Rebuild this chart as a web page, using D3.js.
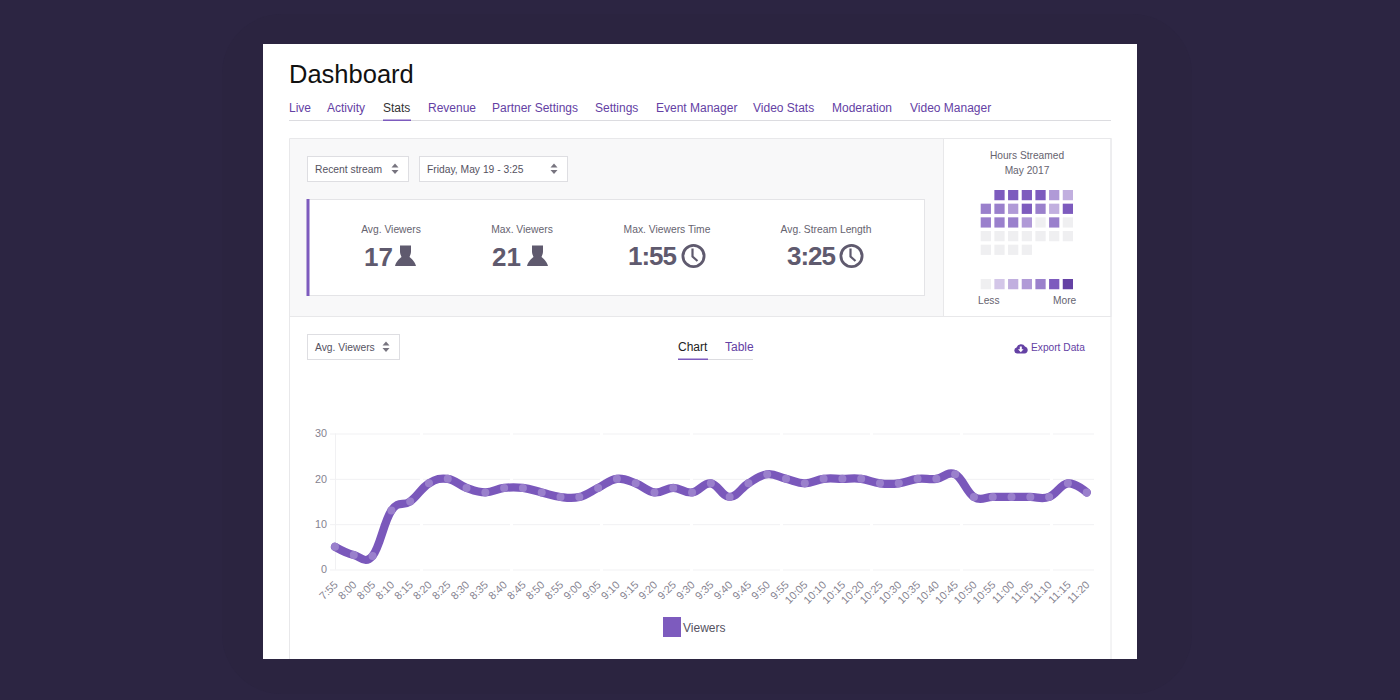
<!DOCTYPE html>
<meta charset="utf-8">
<style>
body { margin: 0; background: #2c2542; }
svg { display: block; }
text { font-family: "Liberation Sans", Arial, sans-serif; }
.axis text { fill: #85828f; font-size: 10.8px; }
.axis path { display: none; }
.axis line { stroke: #f1f1f3; }
.grid-x { stroke-dasharray: 87 3; stroke-dashoffset: 2; }
.line { fill: none; stroke: #7a58bb; stroke-width: 8.2px; stroke-linecap: round; }
.dot { fill: #9a80cc; }
</style>
<svg width="1400" height="700"></svg>
<script src="https://d3js.org/d3.v7.min.js"></script>
<script>
  // chart data
  var times = ["7:55","8:00","8:05","8:10","8:15","8:20","8:25","8:30","8:35","8:40","8:45","8:50","8:55","9:00",
    "9:05","9:10","9:15","9:20","9:25","9:30","9:35","9:40","9:45","9:50","9:55","10:05","10:10","10:15","10:20",
    "10:25","10:30","10:35","10:40","10:45","10:50","10:55","11:00","11:05","11:10","11:15","11:20"];
  var viewers = [5,3.2,3,13,15,19,20,18,17,18,18,17,16,16,18,20,19,17,18,17,19,16,19,21,20,19,20,20,20,19,19,20,20,21,16,16,16,16,16,19,17];
  var yTicks = [0,10,20,30];

  var heatRows = [
    [null,5,5,5,5,3,2],
    [4,4,3,5,4,2,5],
    [4,4,4,3,0,4,0],
    [0,0,0,0,0,0,0],
    [0,0,0,0,null,null,null]
  ];
  var heatLegend = [0,1,2,3,4,5,6];
  var heatColors = ["#efeff1","#d3c6e8","#c1afdf","#b09ad7","#9a80cc","#7d5bbe","#6441a4"];

  var navLabels = ["Live","Activity","Stats","Revenue","Partner Settings","Settings","Event Manager","Video Stats","Moderation","Video Manager"];
  var navX = [289,327,383,428,492,595,656,753,832,910];

  var statLabels = ["Avg. Viewers","Max. Viewers","Max. Viewers Time","Avg. Stream Length"];
  var statValues = ["17","21","1:55","3:25"];
  var statCenters = [391,522,667,826];

  var purple = "#6441a4", grey = "#5f5a6e", border = "#e8e8ea";

  var svg = d3.select("svg");

  function rect(x, y, w, h, fill, stroke) {
    return svg.append("rect").attr("x", x).attr("y", y).attr("width", w).attr("height", h)
      .attr("fill", fill).attr("stroke", stroke || "none");
  }
  function label(x, y, str, size, fill, anchor, weight) {
    return svg.append("text").attr("x", x).attr("y", y).text(str)
      .attr("font-size", size).attr("fill", fill)
      .attr("text-anchor", anchor || "start").attr("font-weight", weight || "normal");
  }
  function selectBox(x, y, w, h, str) {
    rect(x + .5, y + .5, w, h, "#fff", "#dedee2");
    label(x + 8, y + 16.5, str, 10.3, "#55525f");
    var ax = x + w - 13;
    svg.append("path").attr("fill", "#77747f")
      .attr("d", "M" + (ax - 3.5) + "," + (y + 11.5) + "l3.5,-4l3.5,4zM" + (ax - 3.5) + "," + (y + 14) + "l3.5,4l3.5,-4z");
  }

  // faint halo behind the card
  rect(222, 14, 970, 680, "#2b2440").attr("rx", 60);

  // page
  rect(263, 44, 874, 615, "#fff");
  label(289, 83, "Dashboard", 25.5, "#111");

  navLabels.forEach(function(d, i) {
    label(navX[i], 112, d, 12, d == "Stats" ? "#333" : purple);
  });
  rect(289, 120, 822, 1, "#dcdce0");
  rect(383, 119.5, 28, 1.5, "#7d5bbe");

  // panels
  rect(289.5, 138.5, 654, 178, "#f8f8f9");
  rect(943.5, 138.5, 167.5, 178, "#fff", border);
  svg.append("path").attr("fill", "none").attr("stroke", border)
    .attr("d", "M289.5,659V138.5H1111V659M289.5,316.5H1111");

  selectBox(307, 156, 101, 25, "Recent stream");
  selectBox(419, 156, 148, 25, "Friday, May 19 - 3:25");

  rect(307.5, 199.5, 617, 96, "#fff", "#e4e4e7");
  rect(306.5, 199, 3, 97, "#7d5bbe");

  // stat blocks
  statLabels.forEach(function(d, i) {
    label(statCenters[i], 233, d, 10.3, "#66636f", "middle");
  });
  label(364, 266, statValues[0], 26, grey, "start", "bold");
  label(492, 266, statValues[1], 26, grey, "start", "bold");
  label(628, 265, statValues[2], 26, grey, "start", "bold").attr("letter-spacing", -1);
  label(787, 265, statValues[3], 26, grey, "start", "bold").attr("letter-spacing", -1);

  [395, 527].forEach(function(x) {
    svg.append("path").attr("fill", grey).attr("transform", "translate(" + x + ",245)")
      .attr("d", "M5,0.5H16V6.5C16,9 15,10.5 14.5,12C16,13.5 19.5,15.5 21,21H0C1.5,15.5 5,13.5 6.5,12C6,10.5 5,9 5,6.5Z");
  });
  [693.5, 851.5].forEach(function(x) {
    svg.append("circle").attr("cx", x).attr("cy", 256).attr("r", 10.6)
      .attr("fill", "none").attr("stroke", grey).attr("stroke-width", 2.8);
    svg.append("path").attr("fill", "none").attr("stroke", grey).attr("stroke-width", 2.2)
      .attr("d", "M" + (x - 1) + ",248.5V256.5L" + (x + 4) + ",261");
  });

  // hours streamed
  label(1027, 159, "Hours Streamed", 10.2, "#66636f", "middle");
  label(1027, 174, "May 2017", 10.2, "#66636f", "middle");

  var heatX = d3.scaleBand().domain(d3.range(7)).range([980.7, 1073]).paddingInner(.25);
  var heatY = d3.scaleBand().domain(d3.range(5)).range([190, 254.9]).paddingInner(.25);
  var heatColor = d3.scaleOrdinal().domain(heatLegend).range(heatColors);

  heatRows.forEach(function(row, r) {
    svg.append("g").selectAll("rect")
      .data(row.map(function(v, c) { return {v: v, c: c}; }).filter(function(d) { return d.v !== null; }))
      .enter().append("rect")
        .attr("x", function(d) { return heatX(d.c); })
        .attr("y", heatY(r))
        .attr("width", heatX.bandwidth())
        .attr("height", heatY.bandwidth())
        .attr("fill", function(d) { return heatColor(d.v); });
  });
  svg.append("g").selectAll("rect").data(heatLegend)
    .enter().append("rect")
      .attr("x", function(d, i) { return heatX(i); })
      .attr("y", 279)
      .attr("width", heatX.bandwidth())
      .attr("height", heatY.bandwidth())
      .attr("fill", function(d) { return heatColor(d); });
  label(978, 304, "Less", 10.2, "#66636f");
  label(1053, 304, "More", 10.2, "#66636f");

  // chart controls
  selectBox(307, 334, 92, 25, "Avg. Viewers");
  label(678, 351, "Chart", 12, "#222");
  label(725, 351, "Table", 12, purple);
  rect(678, 359, 75, 1, "#dcdce0");
  rect(678, 358.5, 30, 1.5, "#7d5bbe");
  svg.append("path").attr("fill", purple).attr("transform", "translate(1014,342)")
    .attr("d", "M3,11.5A3,3 0 0 1 2.6,5.6A4.6,4.6 0 0 1 11,4.6A3.5,3.5 0 0 1 10.5,11.5Z");
  svg.append("path").attr("fill", "#fff").attr("transform", "translate(1014,342)")
    .attr("d", "M5.8,4.5H7.8V7.2H9.6L6.8,10.2L4,7.2H5.8Z");
  label(1031, 351, "Export Data", 10.2, purple);

  // line chart
  var margin = {top: 433.5, right: 1094, bottom: 569.5, left: 335};
  var x = d3.scalePoint().domain(times).range([margin.left, 1086.7]);
  var y = d3.scaleLinear().domain([0, 30]).range([margin.bottom, margin.top]);

  var yAxis = svg.append("g").attr("class", "axis")
      .attr("transform", "translate(" + margin.left + ",0)")
      .call(d3.axisLeft(y).tickValues(yTicks).tickSize(5).tickPadding(2));
  yAxis.selectAll(".tick text").attr("dy", "0.3em").attr("x", -8);

  svg.append("g").attr("class", "axis")
      .attr("transform", "translate(" + margin.left + ",0)")
      .call(d3.axisRight(y).tickValues(yTicks).tickSize(margin.right - margin.left).tickFormat(""))
    .selectAll("line").attr("class", "grid-x");

  svg.append("line").attr("x1", margin.left + .5).attr("x2", margin.left + .5)
      .attr("y1", margin.top).attr("y2", margin.bottom).attr("stroke", "#f1f1f3");

  var xAxis = svg.append("g").attr("class", "axis")
      .attr("transform", "translate(0," + margin.bottom + ")")
      .call(d3.axisBottom(x).tickSize(0));
  xAxis.selectAll("text")
      .attr("text-anchor", "end")
      .attr("dy", 0).attr("y", 0)
      .attr("transform", "translate(3,16) rotate(-45)");

  var line = d3.line()
      .curve(d3.curveCardinal.tension(-0.2))
      .x(function(d, i) { return x(times[i]); })
      .y(function(d) { return y(d); });

  svg.append("path").datum(viewers).attr("class", "line").attr("d", line);

  svg.append("g").selectAll("circle").data(viewers)
    .enter().append("circle")
      .attr("class", "dot")
      .attr("cx", function(d, i) { return x(times[i]); })
      .attr("cy", function(d) { return y(d); })
      .attr("r", 4);

  // legend
  rect(663, 617, 18, 20, "#7d5bbe");
  label(683, 632, "Viewers", 12, "#55525f");
</script>
